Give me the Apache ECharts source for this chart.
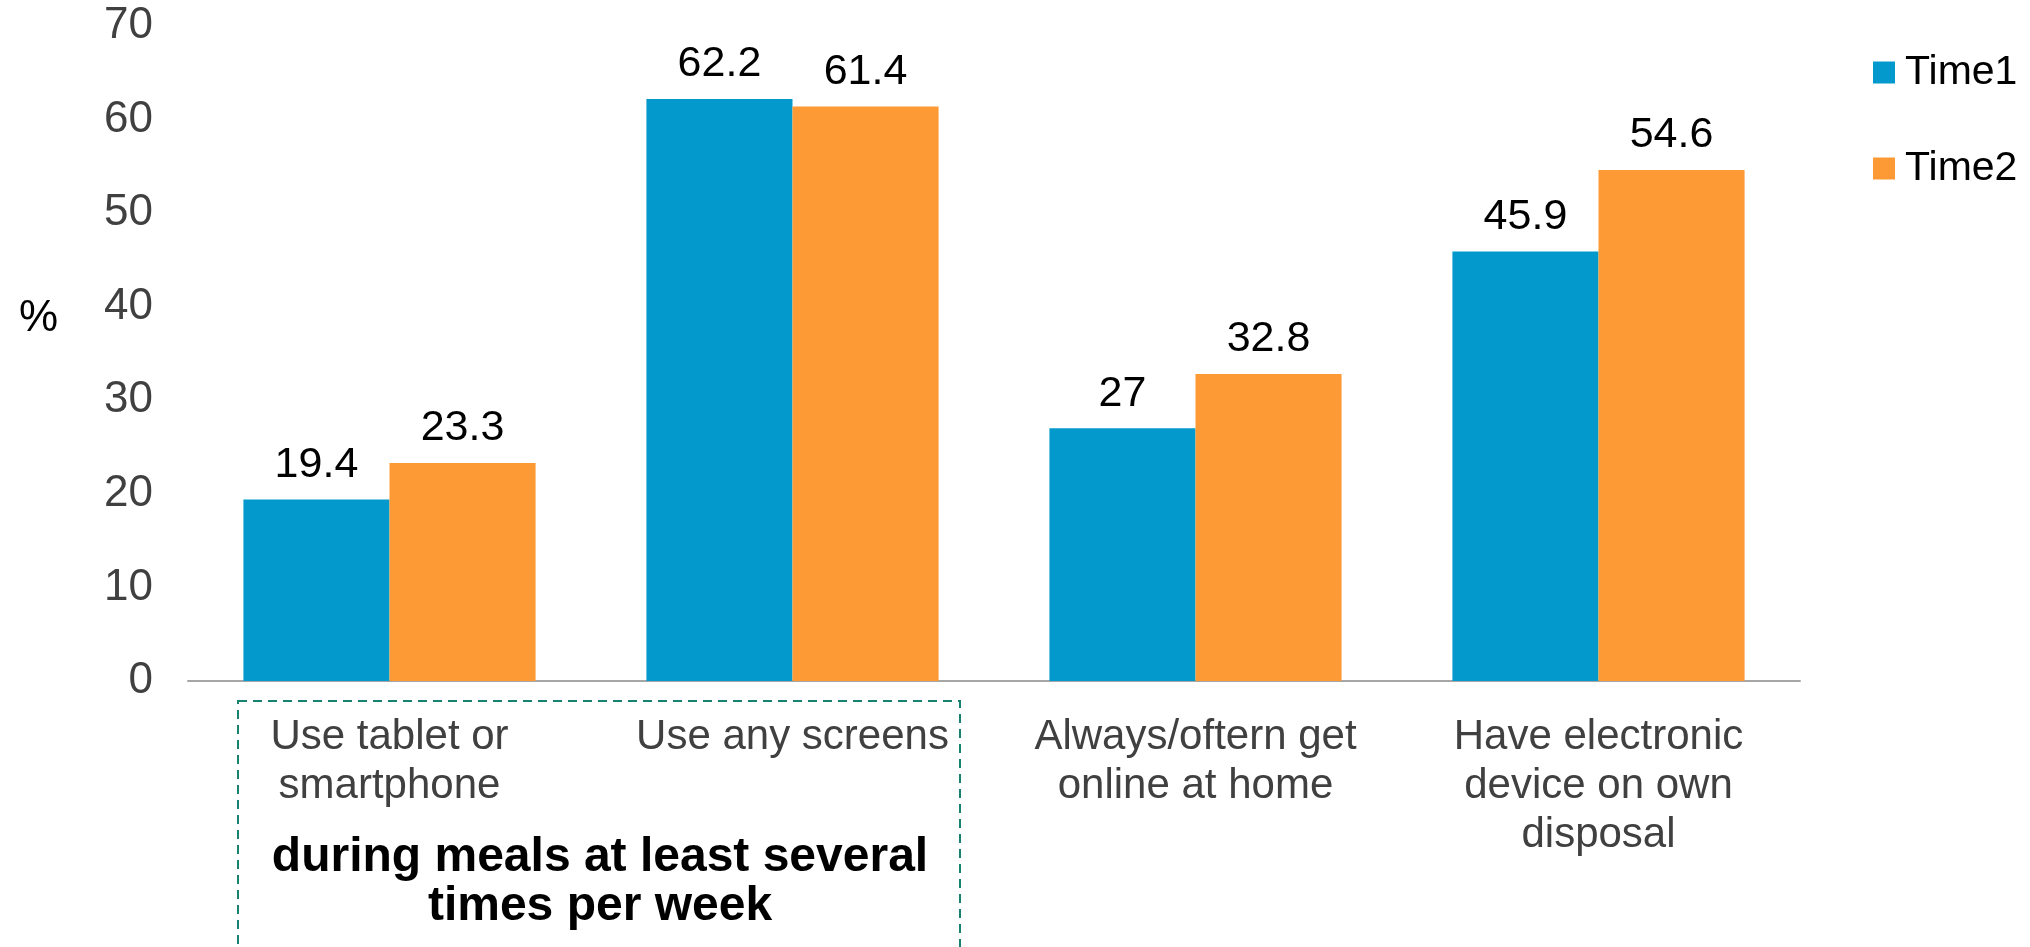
<!DOCTYPE html>
<html>
<head>
<meta charset="utf-8">
<script src="https://cdn.jsdelivr.net/npm/echarts@6/dist/echarts.min.js"></script>
<style>
  html, body { margin: 0; padding: 0; background: #fff; }
  #chart { width: 2030px; height: 947px; }
</style>
</head>
<body>
<div id="chart"></div>
<script>
// Screen use survey: share of respondents (%) at two time points
const categories = [
  'Use tablet or\nsmartphone',
  'Use any screens',
  'Always/oftern get\nonline at home',
  'Have electronic\ndevice on own\ndisposal'
];
const time1 = [19.4, 62.2, 27, 45.9];
const time2 = [23.3, 61.4, 32.8, 54.6];
const seriesNames = ['Time1', 'Time2'];
const yTicks = { min: 0, max: 70, step: 10 };

const FONT = "'Liberation Sans', Arial, sans-serif";
const BLUE = '#0399CC';
const ORANGE = '#FE9A35';

const chart = echarts.init(document.getElementById('chart'), null, { renderer: 'canvas' });

const labelStyle = {
  show: true,
  position: 'top',
  distance: 13,
  color: '#000',
  fontSize: 43,
  fontFamily: FONT
};

chart.setOption({
  animation: false,
  backgroundColor: '#fff',
  grid: { left: 188, right: 230, top: 26, bottom: 266, containLabel: false },
  legend: {
    orient: 'vertical',
    left: 1868,
    top: 47,
    itemWidth: 22,
    itemHeight: 22,
    itemGap: 55,
    icon: 'rect',
    data: seriesNames,
    textStyle: { fontSize: 41, color: '#000', fontFamily: FONT, padding: [0, 0, 0, 5] }
  },
  xAxis: {
    type: 'category',
    data: categories,
    axisLine: { show: true, lineStyle: { color: '#A6A6A6', width: 2 } },
    axisTick: { show: false },
    axisLabel: {
      color: '#404040',
      fontSize: 42,
      fontFamily: FONT,
      lineHeight: 49,
      margin: 32,
      interval: 0
    }
  },
  yAxis: {
    type: 'value',
    min: yTicks.min,
    max: yTicks.max,
    interval: yTicks.step,
    axisLine: { show: false },
    axisTick: { show: false },
    splitLine: { show: false },
    axisLabel: {
      color: '#404040',
      fontSize: 44,
      fontFamily: FONT,
      margin: 35
    }
  },
  series: [
    {
      name: seriesNames[0],
      type: 'bar',
      data: time1,
      itemStyle: { color: BLUE },
      barGap: '0%',
      barCategoryGap: '27.5%',
      label: labelStyle
    },
    {
      name: seriesNames[1],
      type: 'bar',
      data: time2,
      itemStyle: { color: ORANGE },
      barGap: '0%',
      barCategoryGap: '27.5%',
      label: labelStyle
    }
  ],
  graphic: [
    {
      type: 'text',
      left: 19,
      top: 297,
      style: { text: '%', fontSize: 44, fill: '#000', fontFamily: FONT }
    },
    {
      // dashed frame around the two meal-time items
      type: 'rect',
      shape: { x: 238, y: 701, width: 722, height: 247 },
      style: { fill: 'none', stroke: '#17826F', lineWidth: 2, lineDash: [9, 6] }
    },
    {
      type: 'text',
      x: 600,
      y: 882,
      style: {
        text: 'during meals at least several\ntimes per week',
        fontSize: 48,
        fontWeight: 'bold',
        fill: '#000',
        fontFamily: FONT,
        align: 'center',
        verticalAlign: 'middle',
        lineHeight: 49
      }
    }
  ]
});
</script>
</body>
</html>
